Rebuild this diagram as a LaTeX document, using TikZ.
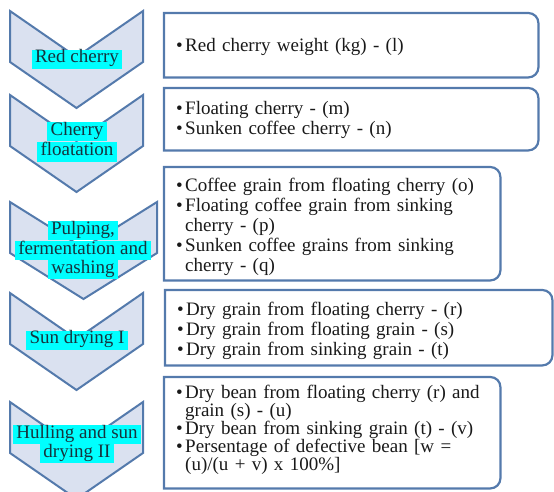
\documentclass[tikz,border=0pt]{standalone}
\usepackage{fontspec}
\setmainfont{Liberation Serif}
\usepackage{xcolor}
\usepackage{tikz}
\usetikzlibrary{positioning,calc}
\definecolor{myblue}{RGB}{84,122,172}
\definecolor{mylight}{RGB}{218,225,240}
\definecolor{mycyan}{RGB}{0,255,255}
\definecolor{myteal}{RGB}{22,52,62}
\setlength{\fboxsep}{0pt}
\newcommand{\hlt}[1]{\colorbox{mycyan}{\strut\,#1\,}}
\newcommand{\itm}[1]{\par\hangindent=9pt\hangafter=1\noindent\makebox[9pt][l]{\textbullet}#1\par}

\begin{document}
\begin{tikzpicture}[x=1pt, y=1pt]
    \tikzstyle{chev}=[draw=myblue, fill=mylight, line width=2pt, line join=miter]
    \tikzstyle{lbl}=[align=center, inner sep=0pt, text=myteal, font=\fontsize{19}{19}\selectfont]
    \tikzstyle{box}=[anchor=north west, inner xsep=12pt, inner ysep=0pt, align=left, text=black!90, font=\fontsize{19}{20}\selectfont]
    \tikzstyle{boxline}=[draw=myblue, line width=2.2pt]
    \useasboundingbox (0,0) rectangle (554,-491);
    % Chevrons
    \foreach \t/\w in {11/133, 95/133, 202/147, 293/133, 402/133}
        \draw[chev] (10,-\t) -- ({10+\w/2},{-\t-46}) -- ({10+\w},-\t) -- ({10+\w},{-\t-51})
            -- ({10+\w/2},{-\t-97}) -- (10,{-\t-51}) -- cycle;
    % Step labels
    \node[lbl] (red) at (77,-59) {\hlt{Red cherry}};
    \node[lbl] (flot) at (77,-142) {\hlt{Cherry}\\\hlt{floatation}};
    \node[lbl] (pulp) at (83,-250) {\hlt{Pulping,}\\\hlt{fermentation and}\\\hlt{washing}};
    \node[lbl] (sun) at (77,-340) {\hlt{Sun drying I}};
    \node[lbl] (hull) at (77,-444) {\hlt{Hulling and sun}\\\hlt{drying II}};
    % Detail boxes
    \node[box, text width=350pt, minimum height=64pt] (b1) at (164,-13)
        {\itm{Red cherry weight (kg) - (l)}\vspace{4pt}};
    \node[box, text width=350pt, minimum height=62pt] (b2) at (164,-88)
        {\itm{Floating cherry - (m)}\itm{Sunken coffee cherry - (n)}\vspace{6pt}};
    \node[box, text width=312pt, minimum height=113pt] (b3) at (164,-167)
        {\itm{Coffee grain from floating cherry (o)}
         \itm{Floating coffee grain from sinking\break cherry - (p)}
         \itm{Sunken coffee grains from sinking\break cherry - (q)}};
    \node[box, text width=363pt, minimum height=75pt] (b4) at (165,-290)
        {\itm{Dry grain from floating cherry - (r)}
         \itm{Dry grain from floating grain - (s)}
         \itm{Dry grain from sinking grain - (t)}};
    \node[box, text width=312pt, minimum height=111pt, font=\fontsize{19}{18}\selectfont] (b5) at (164,-377)
        {\itm{Dry bean from floating cherry (r) and\break grain (s) - (u)}
         \itm{Dry bean from sinking grain (t) - (v)}
         \itm{Persentage of defective bean [w =\break (u)/(u + v) x 100\%]}\vspace{10pt}};
    \foreach \b in {1,...,5}
        \draw[boxline] (b\b.south west) -- (b\b.north west) -- ([xshift=-10pt]b\b.north east)
            arc[start angle=90, end angle=0, radius=10pt] -- ([yshift=10pt]b\b.south east)
            arc[start angle=0, end angle=-90, radius=10pt] -- cycle;
\end{tikzpicture}
\end{document}
